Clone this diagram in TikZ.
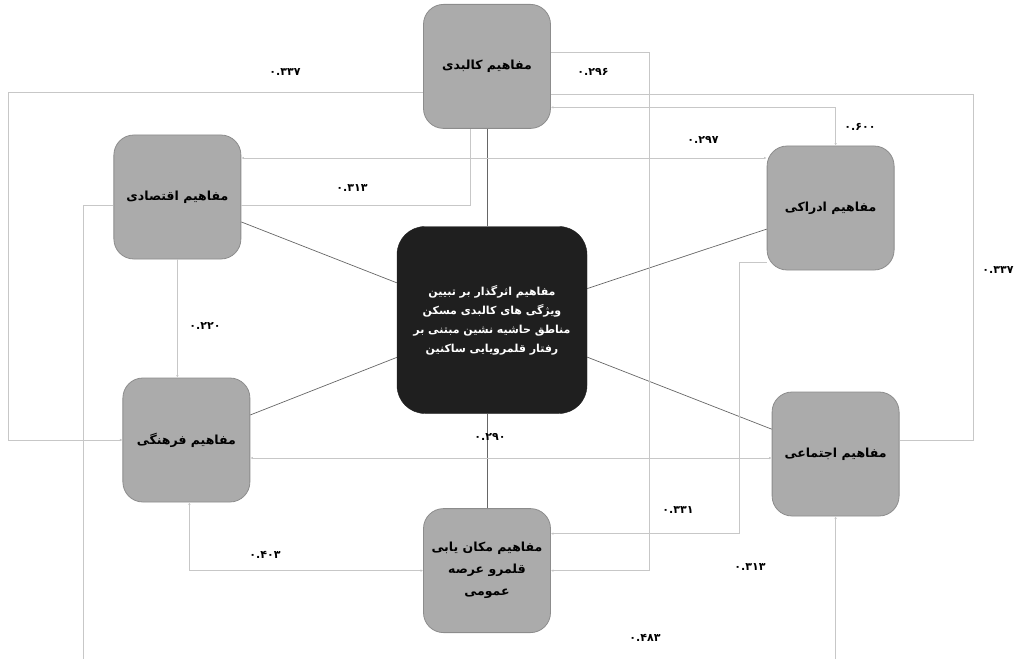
\documentclass[tikz,border=0pt]{standalone}
\usepackage{fontspec}
\newfontfamily\persianfont[Script=Arabic]{DejaVu Sans}
\TeXXeTstate=1
\usetikzlibrary{positioning,arrows.meta}
\newcommand\rtl[1]{\beginR #1\endR}

\begin{document}
\begin{tikzpicture}[x=1pt,y=1pt]
            \tikzstyle{block} = [rectangle, rounded corners=20pt, draw=black!45, fill=black!33, line width=0.8pt, minimum width=127pt, minimum height=124pt, align=center, font=\persianfont\bfseries\fontsize{12.5}{22}\selectfont]
            \tikzstyle{core} = [rectangle, rounded corners=28pt, draw=black!88, fill=black!88, text=white, minimum width=190pt, minimum height=187pt, align=center, font=\persianfont\bfseries\fontsize{11}{19}\selectfont]
            \tikzstyle{link} = [draw=black!60, line width=0.7pt]
            \tikzstyle{wire} = [draw=black!22, line width=0.8pt]
            \tikzstyle{arr} = [wire, -{Latex[length=2.5pt,width=2.5pt]}]
            \tikzstyle{arrs} = [wire, {Latex[length=2.5pt,width=2.5pt]}-{Latex[length=2.5pt,width=2.5pt]}]
            \tikzstyle{val} = [font=\persianfont\bfseries\fontsize{11}{13}\selectfont]

            \useasboundingbox (-492,-339) rectangle (527,320);
            \coordinate (botL) at (-409,-339);

            \node [core] (center) {\rtl{مفاهیم اثرگذار بر تبیین}\\\rtl{ویژگی های کالبدی مسکن}\\\rtl{مناطق حاشیه نشین مبتنی بر}\\\rtl{رفتار قلمرویایی ساکنین}};
            \node [block, above=97.5pt of center, xshift=-5pt] (physical) {\rtl{مفاهیم کالبدی}};
            \node [block, below=94.5pt of center, xshift=-5pt] (spatial) {\rtl{مفاهیم مکان یابی}\\\rtl{قلمرو عرصه}\\\rtl{عمومی}};
            \node [block, left=155.5pt of center, yshift=123pt] (economic) {\rtl{مفاهیم اقتصادی}};
            \node [block, left=146.5pt of center, yshift=-120pt] (cultural) {\rtl{مفاهیم فرهنگی}};
            \node [block, right=179.5pt of center, yshift=112pt] (perceptual) {\rtl{مفاهیم ادراکی}};
            \node [block, right=184.5pt of center, yshift=-134pt] (social) {\rtl{مفاهیم اجتماعی}};

            \draw[link] (physical.south) -- (physical.south |- center.north);
            \draw[link] (spatial.north) -- (spatial.north |- center.south);
            \draw[link] (center) -- (economic);
            \draw[link] (center) -- (cultural);
            \draw[link] (center) -- (perceptual);
            \draw[link] (center) -- (social);

            \draw[arr] ([yshift=-26pt]physical.west) -- ++(-415pt,0) |- (cultural.west);
            \draw[wire] ([yshift=-28pt]physical.east) -- ++(422pt,0) |- ([yshift=14pt]social.east);
            \draw[arr] ([yshift=14pt]physical.east) -- ++(98pt,0) |- (spatial.east);
            \draw[arrs] ([yshift=-41pt]physical.east) -| ([xshift=5pt]perceptual.north);
            \draw[arrs] ([yshift=39pt]economic.east) -- ([yshift=39pt]economic.east -| perceptual.west);
            \draw[wire] ([xshift=-17pt]physical.south) |- ([yshift=-8pt]economic.east);
            \draw[wire] ([yshift=-8pt]economic.west) -| (botL);
            \draw[arr] (economic.south) -- (economic.south |- cultural.north);
            \draw[arrs] ([yshift=-18pt]cultural.east) -- ([yshift=-18pt]cultural.east -| social.west);
            \draw[arrs] ([xshift=3pt]cultural.south) |- (spatial.west);
            \draw[arr] ([yshift=-54pt]perceptual.west) -- ++(-27pt,0) |- ([yshift=37pt]spatial.east);
            \draw[arr] (social.south |- botL) -- (social.south);

            \node [val] (w337a) at (-207,248) {۰.۳۳۷};
            \node [val] (w296) at (101,248) {۰.۲۹۶};
            \node [val] (w600) at (368,193) {۰.۶۰۰};
            \node [val] (w297) at (211,180) {۰.۲۹۷};
            \node [val] (w313a) at (-140,132) {۰.۳۱۳};
            \node [val] (w220) at (-287,-6) {۰.۲۲۰};
            \node [val] (w337b) at (506,50) {۰.۳۳۷};
            \node [val] (w290) at (-2,-117) {۰.۲۹۰};
            \node [val] (w331) at (186,-190) {۰.۳۳۱};
            \node [val] (w403) at (-227,-235) {۰.۴۰۳};
            \node [val] (w313b) at (258,-247) {۰.۳۱۳};
            \node [val] (w483) at (153,-318) {۰.۴۸۳};
\end{tikzpicture}
\end{document}
